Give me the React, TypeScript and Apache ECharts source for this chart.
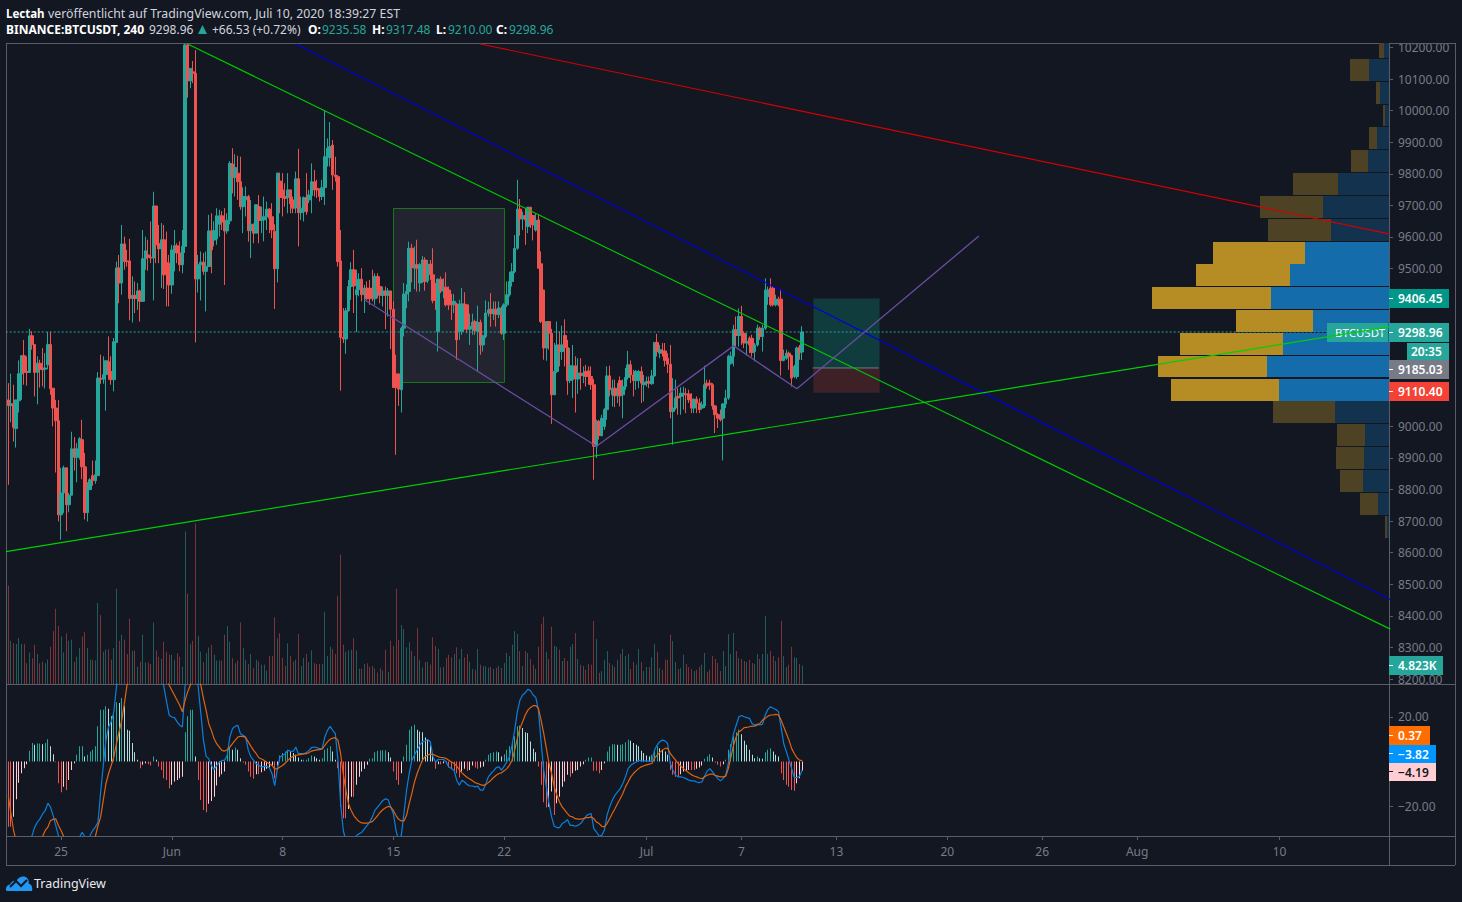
import React, { useEffect, useRef } from "react";
import * as echarts from "echarts";

const BG = "#131722";
const FRAME = "#5a5d68";
const AXIS_TEXT = "#787b86";
const UP = "#26a69a";
const DOWN = "#ef5350";
const FONT = "'Noto Sans', sans-serif";

const BAR_SLOTS = 524;
const tickLabels: Record<number, string> = {
  20: "25", 62: "Jun", 104: "8", 146: "15", 188: "22", 242: "Jul", 278: "7",
  314: "13", 356: "20", 392: "26", 428: "Aug", 482: "10",
};
const categories = Array.from({ length: BAR_SLOTS }, (_, i) => String(i));
const priceTicks = [10200,10100,10000,9900,9800,9700,9600,9500,9400,9300,9200,9100,9000,8900,8800,8700,8600,8500,8400,8300,8200];
const priceLabels = [10200,10100,10000,9900,9800,9700,9600,9500,9000,8900,8800,8700,8600,8500,8400,8300,8200];
const macdTicks = [20, -20];

// [open, close, low, high]
const candles: number[][] = [
[9084,9066,8815,9137],[9066,9072,9013,9167],[9069,8997,8952,9132],[8993,9084,8933,9084],[9081,9167,9044,9209],
[9166,9224,9084,9224],[9224,9171,9132,9274],[9174,9171,9129,9222],[9171,9287,9169,9309],[9287,9259,9243,9301],
[9259,9171,9095,9259],[9171,9200,9070,9222],[9200,9181,9123,9211],[9185,9179,9127,9248],[9181,9185,9120,9232],
[9195,9259,9181,9299],[9259,9119,9100,9299],[9121,9058,9000,9121],[9058,9018,8854,9084],[9018,8720,8699,9084],
[8720,8789,8641,8869],[8789,8869,8726,8876],[8869,8752,8668,8869],[8752,8782,8728,8789],[8782,8929,8782,8983],
[8929,8902,8860,8966],[8902,8929,8823,8947],[8929,8961,8895,8966],[8958,8872,8833,9021],[8872,8727,8705,8916],
[8727,8800,8699,8823],[8800,8831,8800,8836],[8844,8828,8812,8892],[8828,8847,8818,8892],[8844,9153,8844,9172],
[9153,9149,9135,9227],[9149,9164,9135,9222],[9164,9208,9050,9208],[9205,9174,9148,9285],[9174,9148,9132,9222],
[9148,9268,9111,9280],[9266,9502,9264,9522],[9502,9454,9390,9543],[9454,9578,9417,9638],[9578,9522,9496,9601],
[9524,9522,9506,9559],[9524,9405,9336,9594],[9405,9415,9329,9475],[9415,9405,9359,9459],[9405,9429,9369,9454],
[9429,9396,9332,9433],[9396,9531,9396,9622],[9531,9556,9496,9601],[9543,9536,9493,9591],[9536,9533,9517,9649],
[9533,9698,9399,9743],[9698,9575,9517,9698],[9580,9562,9517,9638],[9562,9591,9438,9644],[9591,9480,9435,9638],
[9519,9506,9380,9617],[9517,9448,9380,9543],[9448,9559,9420,9575],[9557,9572,9491,9622],[9572,9549,9517,9580],
[9549,9512,9491,9586],[9512,9570,9485,9622],[9570,10208,9549,10212],[10208,10094,10041,10210],[10094,10134,10071,10134],
[10123,10118,10087,10157],[10118,9467,9266,10192],[9467,9512,9424,9543],[9512,9520,9399,9554],[9520,9491,9480,9549],
[9491,9506,9364,9554],[9506,9619,9506,9670],[9619,9559,9485,9675],[9590,9620,9570,9650],[9594,9667,9575,9691],
[9640,9667,9601,9686],[9667,9647,9622,9682],[9651,9619,9448,9691],[9619,9653,9610,9675],[9651,9833,9640,9840],
[9831,9788,9738,9881],[9788,9820,9728,9862],[9802,9775,9717,9857],[9775,9696,9686,9854],[9696,9728,9612,9757],
[9717,9728,9665,9760],[9728,9620,9585,9733],[9620,9640,9533,9717],[9638,9612,9580,9643],[9612,9702,9612,9702],
[9696,9652,9580,9733],[9652,9659,9612,9696],[9654,9664,9586,9728],[9664,9688,9622,9712],[9688,9659,9612,9691],
[9664,9622,9596,9707],[9618,9499,9372,9640],[9499,9802,9456,9804],[9777,9725,9675,9804],[9749,9725,9665,9802],
[9728,9722,9696,9770],[9725,9749,9675,9802],[9749,9705,9675,9749],[9717,9691,9675,9728],[9692,9784,9675,9807],
[9784,9677,9570,9879],[9677,9691,9654,9728],[9680,9725,9649,9728],[9725,9680,9670,9802],[9717,9733,9707,9749],
[9731,9775,9675,9833],[9775,9749,9728,9812],[9754,9749,9723,9781],[9749,9728,9712,9754],[9728,9756,9717,9781],
[9756,9854,9701,10000],[9854,9881,9823,9912],[9851,9886,9823,9964],[9891,9796,9749,9907],[9796,9791,9775,9854],
[9791,9522,9506,9796],[9524,9282,9113,9622],[9282,9277,9264,9375],[9277,9366,9230,9375],[9366,9443,9364,9464],
[9443,9496,9401,9520],[9496,9445,9359,9559],[9417,9433,9299,9496],[9433,9466,9412,9485],[9466,9417,9396,9501],
[9417,9438,9359,9448],[9438,9404,9400,9459],[9438,9404,9385,9464],[9438,9404,9396,9496],[9404,9475,9385,9485],
[9475,9433,9406,9485],[9443,9415,9390,9475],[9415,9429,9380,9443],[9429,9415,9308,9443],[9415,9429,9348,9438],
[9429,9371,9245,9429],[9371,9123,9123,9396],[9166,9123,8910,9227],[9166,9118,9065,9169],[9116,9311,9044,9316],
[9311,9419,9285,9454],[9419,9427,9374,9450],[9427,9564,9396,9585],[9564,9503,9456,9578],[9501,9512,9435,9570],
[9512,9501,9427,9591],[9454,9512,9427,9517],[9459,9527,9454,9540],[9527,9459,9430,9536],[9461,9514,9454,9527],
[9514,9480,9464,9527],[9480,9399,9390,9564],[9432,9399,9369,9454],[9301,9466,9237,9469],[9466,9429,9422,9475],
[9429,9441,9406,9469],[9441,9385,9380,9488],[9432,9385,9369,9443],[9396,9385,9337,9420],[9385,9396,9359,9419],
[9388,9274,9211,9392],[9301,9388,9274,9401],[9301,9388,9290,9438],[9388,9380,9306,9425],[9385,9308,9295,9385],
[9308,9316,9258,9357],[9311,9329,9290,9357],[9332,9303,9290,9338],[9301,9329,9174,9382],[9329,9258,9227,9338],
[9258,9287,9237,9290],[9285,9359,9279,9399],[9359,9369,9348,9395],[9371,9357,9316,9422],[9357,9371,9337,9396],
[9371,9355,9316,9396],[9355,9375,9343,9396],[9355,9295,9290,9380],[9295,9385,9274,9390],[9385,9417,9378,9459],
[9417,9459,9411,9490],[9459,9490,9443,9517],[9490,9564,9485,9606],[9564,9688,9559,9781],[9688,9657,9604,9720],
[9657,9668,9622,9680],[9668,9654,9575,9691],[9633,9694,9612,9694],[9694,9640,9628,9694],[9668,9638,9589,9670],
[9622,9652,9617,9675],[9654,9501,9501,9670],[9515,9332,9327,9554],[9432,9248,9211,9432],[9248,9332,9208,9332],
[9332,9295,9243,9332],[9295,9100,9008,9309],[9100,9174,9100,9264],[9174,9258,9169,9332],[9258,9237,9190,9301],
[9237,9258,9211,9319],[9288,9250,9190,9339],[9250,9145,9100,9274],[9145,9192,9137,9248],[9148,9192,9090,9258],
[9192,9150,9044,9222],[9150,9169,9103,9216],[9169,9160,9116,9216],[9160,9169,9137,9190],[9174,9158,9126,9195],
[9176,9158,9132,9190],[9158,9132,9116,9190],[9132,8937,8831,9150],[8937,9016,8900,9021],[9016,8971,8958,9021],
[8971,9026,8968,9037],[9000,9053,8989,9058],[9053,9160,9021,9190],[9160,9116,9095,9192],[9100,9121,9063,9148],
[9121,9097,9061,9148],[9097,9100,9074,9137],[9145,9097,9063,9158],[9100,9126,9026,9148],[9126,9155,9116,9185],
[9155,9195,9148,9239],[9195,9163,9137,9209],[9163,9145,9095,9179],[9145,9174,9116,9179],[9145,9174,9121,9179],
[9174,9137,9074,9190],[9132,9140,9079,9163],[9137,9142,9126,9158],[9142,9137,9121,9158],[9135,9160,9132,9179],
[9160,9266,9158,9266],[9266,9237,9221,9293],[9232,9243,9216,9258],[9240,9232,9221,9264],[9239,9209,9190,9264],
[9216,9197,9169,9232],[9197,9047,9026,9258],[9047,9058,8942,9153],[9058,9090,9053,9148],[9095,9090,9037,9121],
[9095,9105,9037,9124],[9103,9105,9053,9126],[9103,9100,9042,9121],[9103,9084,9074,9116],[9086,9058,9042,9105],
[9058,9086,9042,9089],[9086,9074,9042,9095],[9074,9053,9042,9089],[9058,9068,9053,9079],[9065,9132,9058,9192],
[9137,9129,9120,9148],[9137,9132,9115,9148],[9132,9065,9053,9137],[9065,9037,8979,9068],[9037,9026,8995,9042],
[9037,9021,9016,9053],[9026,9071,8892,9074],[9071,9090,9058,9116],[9090,9222,9084,9227],[9200,9222,9195,9237],
[9222,9306,9190,9322],[9306,9288,9253,9348],[9288,9348,9253,9374],[9348,9295,9258,9382],[9295,9264,9248,9301],
[9264,9269,9224,9295],[9279,9258,9232,9285],[9279,9234,9221,9290],[9237,9258,9206,9264],[9258,9311,9253,9322],
[9311,9285,9274,9316],[9285,9311,9237,9322],[9311,9432,9306,9469],[9411,9432,9385,9443],[9438,9385,9380,9469],
[9438,9385,9380,9443],[9385,9403,9380,9417],[9403,9395,9380,9411],[9403,9209,9161,9434],[9209,9222,9206,9243],
[9216,9232,9211,9243],[9232,9222,9179,9237],[9224,9153,9126,9227],[9158,9190,9153,9195],[9158,9248,9150,9253],
[9251,9234,9211,9258],[9235.58,9298.96,9210,9317.48],
];

const volumes: number[] = [
25.6,11.3,10.6,10.4,12,10.4,10.4,5.4,8.2,6.7,10.2,7.8,5.4,5.8,5.4,6.4,9.7,13.8,19.6,15.1,
12.4,8.2,13.2,11.3,11.5,5.8,7.1,9.4,12.4,13.6,9.4,6.4,6.3,6.1,21.1,18,8.4,8.9,9,6.4,
9.4,24.8,11.3,12.8,11.5,7.8,17,8.6,8.7,4.5,5.8,12.8,5.6,5.6,5.2,16,8.7,7.1,6.6,11,
8.4,7.6,7.6,6.3,8,7.1,4.5,39.7,23.5,10.4,11.3,41.8,12.5,8.4,5.7,8,9.5,10.2,7.6,6.1,
6.1,6.1,12.8,15.1,11,6.7,5.4,6.1,16,9.4,6.3,5.2,7.8,4.2,6.3,5.9,5,5,3.5,7.3,
7.3,17.4,11.9,13.2,6.8,4.7,10.6,7.3,5.8,6.3,13,4.7,6.8,7.8,5.7,8.7,5.4,5.2,5.2,5.2,
18.8,7.3,9.7,9.1,7.8,23,33.7,10.2,8.4,8.7,8.9,11.9,8.7,4,4,5.2,5.4,4.5,4.7,4.1,
3,4.1,3.5,8.9,3.2,11.3,9.9,24.8,11.5,15.4,14.3,9.6,10.9,8.6,7.3,14.5,6.3,4.3,5.7,5.7,
5.1,12.2,9.9,9.1,4.3,4.4,6.8,7.6,7,7.8,9.6,6.5,9.1,7,7.8,5.8,3.9,3.7,9.1,5,
4.7,4.6,4.3,4.4,3.9,4.2,4.7,4.2,5.5,8.1,7.3,10.2,13.8,13,8.6,4.7,8.6,8.1,6.5,5,
3.9,9.7,15.7,17.5,8.4,6.5,14.9,9.9,9.7,8.9,6,6.8,6,9.7,10.4,13.3,6.5,5,4.7,3.7,
5.2,5,16.4,11.7,2.9,3.4,6.3,8.6,5.5,5,4.4,6.3,7.8,9.1,7.3,7.8,3.9,5.7,5,9.1,
5.7,3.4,4.4,4.4,7,10.4,8.4,4.2,3.7,6.3,6.3,12.8,11.2,5.7,3.9,4.2,7.6,5.2,4.4,3.9,
3.4,3.7,4.4,5,8.1,3.1,3.7,7.3,6.5,5.5,3.4,8.6,4.7,13,7.8,13.3,8.6,6.8,6.5,6,
5.7,6.3,5.5,5.2,7.8,6.5,7.8,17.7,7.8,8.6,7.3,6,7,16.4,7.3,4.4,5,9.7,7,6.8,
5.2,4.823,
];

const histogram: number[] = [
-29.3,-29.3,-24.8,-17,-9.5,-5.3,-3,-1.2,
4.8,8.3,7.5,8.1,8.1,7.8,8.3,10,6.8,3.3,
-0.3,-9.8,-13.8,-11.3,-12.8,-8.3,-3.8,-0.8,
3,6.8,6.8,2.3,3,4.5,5.3,6.8,15.8,23.3,23.3,24.8,23.7,20.3,21,26.6,26.3,28.5,25,14.3,13.8,8.3,4.2,0.8,
-3,-1.5,-0.8,-1.2,-1.8,2.3,0.8,
-2.3,-3.8,-7.5,-8.3,-12,-10.5,-9,-8.3,-7.5,-6.8,
13.2,20.3,23.3,23.3,2.3,
-8.3,-17.3,-21.8,-22.8,-19,-17.7,-15.8,-10.8,-6.8,-5.7,-4.5,
5.3,6.3,5.3,6.3,5.3,1.5,
-0.5,-1.5,-4.5,-6.8,-7.8,-5.7,-5.7,-4.8,-4.2,-3.3,-2.7,-1.8,-7.5,-1.8,
2.7,3.8,4.5,5.3,4.5,3.8,3,1.8,0.8,0.8,0.8,1.5,2.7,2.3,1.5,0.8,1.5,5.3,6,6.8,4.5,0.8,
-3,-20.3,-25.5,-25.5,-21.3,-15.8,-15.8,-10.5,-6.8,-4.5,-3.3,-1.5,
1.2,1.5,4.2,4.8,5,5.1,5.1,4.2,1.8,
-4.5,-8.3,-10.5,-5.3,
2.3,7.5,14.3,15.8,16.5,14.3,13.5,13.2,10.8,9.8,7.2,3.8,
-3.3,-1.2,-1.2,-0.8,-0.8,-2.7,-3,-4.5,-5.3,-7.2,-4.5,-3.3,-4.2,-3.8,-1.8,-2.7,-3.3,-2.7,-2.3,
0.8,3,3.8,4.2,4.5,4.2,2.3,3.3,5.3,6.8,8.3,11.3,15.8,16.2,15,13.2,12.8,9,5.7,4.2,
-2.3,-10.5,-18.3,-20.7,-20.3,-13.5,-24,-18.8,-15.8,-11.3,-9,-6,-6.8,-5.3,-4.2,-3.8,-2.3,-1.2,
0.8,1.8,1.8,
-4.2,-4.2,-5.3,-3.8,-0.8,
4.5,6.8,7.8,7.8,7.5,7.5,7.8,8.7,9.8,9.3,8.3,7.5,6.8,4.8,3.8,2.7,2.3,3,5.3,6.8,6,5.3,4.5,3,
-3.8,-6,-6.8,-6.8,-5.7,-4.5,-4.2,-3.8,-3.8,-3.8,-3.3,-2.7,-1.8,
1.2,2.3,3.3,1.8,
-0.5,-1.5,-2.3,-1.2,
0.8,5.3,7.8,11.3,13.2,14.3,12.3,9.3,7.5,5.3,3,1.5,2.3,1.5,1.2,4.2,5.3,6,4.5,3,2.3,
-5.3,-8.3,-10.5,-11.3,-12.8,-13.2,-9.8,-7.5,-4.19,
];

const macdLine: number[] = [
-60,-60,-58,-55,-50,-45,-42,-38,-35,-33.3,-29.5,-27.3,-25.8,-23.5,-22,-18.7,-20.5,-24.3,-28.8,-33.3,
-37.8,-40,-42,-42,-40,-38,-36,-34,-31.8,-33.7,-34.8,-33.3,-31,-29.5,-27.3,-13.8,-1.8,9.5,15.5,17.8,
22.3,33.5,40,48,52,56,58,58,58,58,57,56,55,52,50,48,45,42,38,33.5,
26.8,20.8,20,19.7,17.8,16.3,15.5,33.5,45,55,50,42,33.5,21.5,9.5,2.3,1.3,-1.8,-3.7,-1.8,
-0.3,0.5,0.5,2.8,11,14.8,15.8,16.3,12.5,11.8,11,5,2,0.5,-1,-1.8,-2.5,-2.2,-2.2,-2.8,
-5.5,-10.8,-3.3,2,2.8,3.5,5,4.7,4.5,6.5,3.5,3.5,3.5,4,5,6.2,6.5,6.2,5.8,5.8,
11,14,15.8,14,12.5,0.5,-19,-31,-35.5,-37.8,-37,-35.5,-33.3,-32.5,-31.8,-30.3,-28.8,-27.3,-25,-22,
-20.5,-19,-17.5,-16.8,-17.2,-20.5,-23.5,-31,-35.5,-33.2,-23.4,-12.9,-5.4,0.6,2.9,5.1,7.4,8.9,9.2,9.9,
8.9,2.1,-0.2,0.9,0.9,0.9,-0.2,-2.4,-3.2,-3.9,-8.4,-10.7,-8.4,-9.2,-10.4,-11,-11,-11.4,-11.1,-12.9,
-12.9,-10.2,-6.9,-5.4,-4.2,-2.7,-2.4,-3.9,-2.1,-0.2,2.1,7.4,14.1,22.4,27.6,29.9,30.9,32.4,31.8,29.9,
28.8,23.1,8.9,-3.9,-11.4,-18.9,-24.9,-29.1,-29.7,-29.7,-27.9,-27.2,-26.1,-28.7,-28.7,-29.1,-28.7,-27.9,-26.4,-24.6,
-23.7,-23.4,-30.2,-31.7,-33.6,-33.2,-30.9,-24.2,-20.4,-17.4,-15.2,-13.7,-12.2,-9.9,-6.9,-3.2,-1.7,-0.9,-0.2,0.6,
0.3,0.3,0.3,0.2,0.2,5.1,7.4,8.9,9.6,9.3,8.1,-0.9,-3.9,-6.2,-6.9,-6.9,-7.2,-7.7,-8.4,-8.7,
-8.7,-9.2,-9.5,-9.2,-6.6,-4.2,-3.2,-4.7,-6.2,-7.7,-8.7,-7.7,-6.2,-0.9,6.6,12.6,16.4,20.1,20.7,20.1,
19.7,19.4,17.1,16.4,16.8,16.4,16.8,20.9,23.4,24.6,23.9,23.4,22.4,15.6,8.1,4.4,0.6,-3.2,-7.2,-7.2,
-6.6,-3.82,
];

const signalLine: number[] = [
-15.4,-23.5,-31,-36,-40,-44,-47,-50,-50,-48,-45,-40,-36,-33.7,-31,-29.5,-26.5,-26,-25.8,-28.8,
-31,-33.7,-36,-38,-38,-38,-37,-37,-37,-37,-36,-35.5,-34.5,-33.7,-28.8,-25,-17.5,-10,-5.5,-1.8,
2,8,13.3,18.5,26,34.3,38,41,44,47,49,50,50,50,49,48,47,45,43,40,
37,34.3,32,29.8,27.5,25.3,22.3,27.5,31.3,34.3,38,40,38,34.3,28.3,23,17,14,10.3,8,
6.5,5,4.7,5.3,6.5,8,9.5,11,11.3,11.3,10.7,8.8,6.8,5,3.5,1.7,1.1,0.5,-0.3,-1,
-1.8,-3.3,-3.3,-2.5,-1.8,-0.7,0.5,1.7,2.3,2.8,3,3.2,3.4,3.5,4,4.7,5,5.2,5.3,5.6,
7.3,8.8,10,10.5,10.7,9.5,3.5,-5.5,-13,-19,-22,-24.3,-25.8,-27,-27.6,-27.7,-27.7,-27.4,-27,-25.8,
-24.3,-22.8,-21.7,-20.8,-20.2,-20.5,-22,-24.3,-26,-26.7,-26.7,-24.2,-18.9,-14.4,-9.2,-5.4,-2.4,0.6,2.1,2.9,
3.3,3.2,2.7,2.1,1.8,1.7,1.4,0.6,-0.2,-0.9,-2.1,-3.6,-5.1,-6.2,-7.2,-7.9,-8.7,-9.5,-9.9,-10.4,
-10.7,-10.4,-9.5,-8.4,-7.2,-6.2,-5.4,-5.1,-4.2,-3.2,-1.7,0.6,5.1,10.4,14.9,17.9,20.9,23.1,24.3,25.1,
25.1,23.9,18.6,12.6,5.9,-0.9,-5.4,-11.4,-15.2,-18.2,-20.4,-21.9,-23.4,-24.6,-24.9,-25.7,-25.9,-25.9,-25.7,-25.2,
-25.2,-24.9,-25.7,-27.2,-27.9,-29.1,-29.4,-27.9,-25.7,-23.4,-21.2,-18.9,-16.7,-14.4,-11.4,-9.2,-6.9,-5.4,-4.2,-3.2,
-2.4,-1.9,-1.5,-1.2,-0.9,1.4,2.9,4.1,5.1,5.9,5.9,3.6,2.1,0.6,-0.9,-2.1,-3.2,-4.2,-5.1,-5.9,
-6.5,-6.9,-7.4,-7.7,-6.9,-6.2,-5.7,-5.7,-6.2,-6.6,-6.9,-6.9,-6.6,-3.2,2.1,7.4,11.1,13.4,14.1,15.2,
15.3,15.6,15.9,15.9,16.4,17.1,18.6,19.4,20.4,20.9,20.9,21.2,20.9,18.6,15.6,12.6,9.6,5.9,3.6,1.7,
0.6,0.37,
];

// Visible-range volume profile, one row per price bin
const profileRowHighs = [10236,10164,10091,10019,9947,9874,9802,9730,9657,9585,9513,9441,9368,9296,9224,9151,9079,9007,8934,8862,8790,8717];
const profileBinSize = 72.3;
const profileUp = [5,20,9,4,12,21,51,66,58,84,99,118,76,106,122,110,54,24,25,26,11,2];
const profileDown = [5,19,4,2,8,17,45,63,63,92,94,119,77,103,109,108,62,28,28,23,18,2];
const valueAreaRows = [9,10,11,12,13,14,15];

// Drawings in [bar index, price]
const risingGreen = [[-1,8603.5],[524,9316]];
const fallingGreen = [[68,10211],[524,8358]];
const blueChannel = [[109,10211],[524,8452]];
const redChannel = [[179,10211],[524,9609]];
const purpleZigzag = [[135,9401],[223,8937],[275,9255],[299,9119],[368,9603]];
const lastPrice = [[-1,9298.96],[524,9298.96]];
const targetLine = [[305,9185.03],[330,9185.03]];
// [bar from, price top, bar to, price bottom, fill, stroke]
const boxes: any[][] = [
  [146, 9692, 188, 9141.5, "#22252f", "#17761a"],
  [305, 9406.45, 330, 9185.03, "#113c3e", "#15282f"],
  [305, 9185.03, 330, 9110.4, "#3e2126", "#2b2028"],
];

echarts.graphic.registerShape("tvlogo", echarts.graphic.extendPath(
  "M0.4 16 C-0.8 13 0.8 10 4 9.6 C5 6.6 8 5 10.4 6 C12.6 1.4 18.4 0 21.4 3.4 C23 5.2 23 7 22.6 8.4 C25.6 9.2 27 12.6 26 16 Z", {}
) as any);

function barStyleColor(v: number, prev: number) {
  if (v >= 0) return v >= prev ? UP : "#b2dfdb";
  return v <= prev ? DOWN : "#ffcdd2";
}

function renderColumn(params: any, api: any) {
  const idx = api.value(0);
  const val = api.value(1);
  const base = api.coord([idx, 0]);
  const top = api.coord([idx, val]);
  return {
    type: "rect",
    shape: { x: Math.floor(base[0]), y: Math.min(base[1], top[1]), width: 1, height: Math.abs(top[1] - base[1]) },
    style: { fill: params.context.colors[params.dataIndex] },
  };
}

function flag(x: number, y: number, w: number, h: number, fill: string, text: string, color = "#ffffff", tx?: number, dash = true, z = 20, font = `600 12px ${FONT}`): any[] {
  const out: any[] = [
    { type: "rect", z, shape: { x, y, width: w, height: h }, style: { fill } },
    { type: "text", z: z + 2, x: tx ?? 1398, y: y + h / 2, style: { text, fill: color, font, textVerticalAlign: "middle" } },
  ];
  if (dash) out.push({ type: "rect", z: z + 1, shape: { x: 1389, y: Math.round(y + h / 2) - 1, width: 4, height: 1 }, style: { fill: color } });
  return out;
}

function hline(y: number, x1: number, x2: number) {
  return { type: "line", z: 1, shape: { x1, y1: y + 0.5, x2, y2: y + 0.5 }, style: { stroke: FRAME, lineWidth: 1 } };
}
function vline(x: number, y1: number, y2: number) {
  return { type: "line", z: 1, shape: { x1: x + 0.5, y1, x2: x + 0.5, y2 }, style: { stroke: FRAME, lineWidth: 1 } };
}
function label(x: number, y: number, text: string, fill = "#d1d4dc", bold = false, size = 12) {
  return { type: "text", z: 30, x, y, style: { text, fill, font: `${bold ? "700" : "400"} ${size}px ${FONT}`, textVerticalAlign: "middle" } };
}

function trend(name: string, data: number[][], color: string, extra: any = {}) {
  return {
    name, type: "line", xAxisIndex: 0, yAxisIndex: 0, data, symbol: "none", z: 6, silent: true,
    lineStyle: { color, width: 1.15, ...extra },
  };
}

function buildOption(): any {
  const volumeColors = volumes.map((_, i) => (candles[i][1] >= candles[i][0] ? "#225b5c" : "#7a3438"));
  const histColors = histogram.map((v, i) => barStyleColor(v, i ? histogram[i - 1] : 0));
  const axisLabelBase = { color: AXIS_TEXT, fontFamily: FONT, fontSize: 12 };

  return {
    animation: false,
    backgroundColor: BG,
    grid: [
      { left: 7, top: 43, width: 1382, height: 641 },
      { left: 7, top: 684, width: 1382, height: 152 },
    ],
    xAxis: [
      { type: "category", gridIndex: 0, data: categories, show: false },
      {
        type: "category", gridIndex: 1, data: categories, position: "bottom",
        axisLine: { show: false, onZero: false },
        axisTick: { show: true, alignWithLabel: true, length: 4, interval: (i: number) => tickLabels[i] !== undefined, lineStyle: { color: FRAME } },
        axisLabel: { ...axisLabelBase, margin: 9, interval: (i: number) => tickLabels[i] !== undefined, formatter: (v: string) => tickLabels[Number(v)] ?? "" },
        splitLine: { show: false },
      },
      { type: "value", gridIndex: 0, position: "top", inverse: true, min: 0, max: 1382, show: false, splitLine: { show: false } },
    ],
    yAxis: [
      {
        type: "value", gridIndex: 0, position: "right", min: 8184.2, max: 10214.2, scale: true,
        axisLine: { show: false }, splitLine: { show: false },
        axisTick: { show: true, length: 4, customValues: priceTicks, lineStyle: { color: FRAME } },
        axisLabel: { ...axisLabelBase, margin: 9, customValues: priceLabels, formatter: (v: number) => v.toFixed(2) },
      },
      { type: "value", gridIndex: 0, min: 0, max: 167, show: false, splitLine: { show: false } },
      {
        type: "value", gridIndex: 1, position: "right", min: -33.48, max: 34.83,
        axisLine: { show: false }, splitLine: { show: false },
        axisTick: { show: true, length: 4, customValues: macdTicks, lineStyle: { color: FRAME } },
        axisLabel: { ...axisLabelBase, margin: 9, customValues: macdTicks, formatter: (v: number) => v.toFixed(2).replace("-", "\u2212") },
      },
    ],
    series: [
      {
        name: "boxes", type: "custom", xAxisIndex: 0, yAxisIndex: 0, z: 1, silent: true, clip: true,
        encode: { x: [0, 2], y: [1, 3] },
        data: boxes.map((b) => [b[0], b[1], b[2], b[3]]),
        renderItem: (params: any, api: any) => {
          const b = boxes[params.dataIndex];
          const p0 = api.coord([b[0], b[1]]);
          const p1 = api.coord([b[2], b[3]]);
          return {
            type: "rect",
            shape: { x: Math.round(p0[0]) + 0.5, y: Math.round(p0[1]) + 0.5, width: Math.round(p1[0] - p0[0]), height: Math.round(p1[1] - p0[1]) },
            style: { fill: b[4], stroke: b[5], lineWidth: 1 },
          };
        },
      },
      {
        name: "Volume Profile", type: "custom", xAxisIndex: 2, yAxisIndex: 0, z: 2, silent: true, clip: true,
        encode: { x: [1, 2], y: 0 },
        data: profileRowHighs.map((h, i) => [h, profileUp[i], profileDown[i]]),
        renderItem: (params: any, api: any) => {
          const high = api.value(0);
          const up = api.value(1);
          const down = api.value(2);
          const lit = valueAreaRows.includes(params.dataIndex);
          const top = api.coord([0, high]);
          const bottom = api.coord([0, high - profileBinSize]);
          const mid = api.coord([up, high]);
          const end = api.coord([up + down, high]);
          const y = Math.round(top[1]);
          const height = Math.round(bottom[1]) - y - 1;
          return {
            type: "group",
            children: [
              { type: "rect", shape: { x: Math.round(mid[0]), y, width: Math.round(top[0]) - Math.round(mid[0]), height }, style: { fill: lit ? "#146cab" : "#13324e" } },
              { type: "rect", shape: { x: Math.round(end[0]), y, width: Math.round(mid[0]) - Math.round(end[0]), height }, style: { fill: lit ? "#b58d24" : "#4d4224" } },
            ],
          };
        },
      },
      {
        name: "Volume", type: "custom", xAxisIndex: 0, yAxisIndex: 1, z: 3, silent: true, clip: true,
        encode: { x: 0, y: 1 },
        data: volumes.map((v, i) => [i, v]),
        renderItem: (params: any, api: any) => renderColumn({ ...params, context: { colors: volumeColors } }, api),
      },
      {
        name: "BTCUSDT", type: "candlestick", xAxisIndex: 0, yAxisIndex: 0, z: 5, silent: true, barWidth: 3,
        data: candles,
        itemStyle: { color: UP, color0: DOWN, borderColor: UP, borderColor0: DOWN, borderWidth: 1 },
      },
      trend("Last", lastPrice, UP, { type: [2, 2], width: 1 }),
      trend("Target", targetLine, AXIS_TEXT, { width: 1 }),
      trend("Red", redChannel, "#d40000"),
      trend("Blue", blueChannel, "#0000dc"),
      trend("Green falling", fallingGreen, "#00c800"),
      trend("Green rising", risingGreen, "#00d000"),
      trend("Zigzag", purpleZigzag, "#6a4ca3", { width: 1.3 }),
      {
        name: "Histogram", type: "custom", xAxisIndex: 1, yAxisIndex: 2, z: 3, silent: true, clip: true,
        encode: { x: 0, y: 1 },
        data: histogram.map((v, i) => [i, v]),
        renderItem: (params: any, api: any) => renderColumn({ ...params, context: { colors: histColors } }, api),
      },
      {
        name: "MACD", type: "line", xAxisIndex: 1, yAxisIndex: 2, z: 5, symbol: "none", silent: true,
        data: macdLine, lineStyle: { color: "#0a80dc", width: 1.2 },
      },
      {
        name: "Signal", type: "line", xAxisIndex: 1, yAxisIndex: 2, z: 6, symbol: "none", silent: true,
        data: signalLine, lineStyle: { color: "#e0640f", width: 1.2 },
      },
    ],
    graphic: {
      elements: [
        vline(6, 43, 865), vline(1389, 43, 865), vline(1455, 43, 865),
        hline(43, 6, 1455), hline(684, 6, 1455), hline(836, 6, 1455), hline(865, 6, 1455),

        { type: "text", z: 30, x: 6, y: 13, style: { text: "Lectah", fill: "#ffffff", font: `700 11.5px ${FONT}`, textVerticalAlign: "middle" } },
        label(48, 13, "veröffentlicht auf TradingView.com, Juli 10, 2020 18:39:27 EST", "#d1d4dc", false, 12.3),
        label(6, 29, "BINANCE:BTCUSDT, 240", "#ffffff", true),
        label(149, 29, "9298.96"),
        { type: "polygon", z: 30, shape: { points: [[198, 34], [207, 34], [202.5, 25]] }, style: { fill: UP } },
        label(212, 29, "+66.53 (+0.72%)"),
        label(308, 29, "O:", "#ffffff", true), label(322, 29, "9235.58", UP),
        label(372, 29, "H:", "#ffffff", true), label(386, 29, "9317.48", UP),
        label(436, 29, "L:", "#ffffff", true), label(448, 29, "9210.00", UP),
        label(496, 29, "C:", "#ffffff", true), label(509, 29, "9298.96", UP),

        ...flag(1327, 323, 61, 19, UP, "BTCUSDT", "#ffffff", 1335, false, 4, `400 11.5px ${FONT}`),
        ...flag(1389, 289, 60, 19, "#009688", "9406.45"),
        ...flag(1389, 323, 60, 19, UP, "9298.96"),
        ...flag(1407, 343, 42, 17, UP, "20:35", "#ffffff", 1411, false),
        ...flag(1389, 360, 60, 19, AXIS_TEXT, "9185.03"),
        ...flag(1389, 382, 60, 19, "#f44336", "9110.40"),
        ...flag(1389, 656, 54, 19, UP, "4.823K"),
        ...flag(1389, 726, 41, 19, "#ff6d00", "0.37"),
        ...flag(1389, 745, 47, 18, "#0096ff", "\u22123.82"),
        ...flag(1389, 763, 47, 18, "#ffcdd2", "\u22124.19", "#131722"),

        { type: "tvlogo", z: 30, x: 6, y: 875, style: { fill: "#2196f3" } },
        { type: "polyline", z: 31, shape: { points: [[10, 887], [16, 881], [21, 886], [27, 880]] }, style: { stroke: BG, lineWidth: 2, fill: "none" } },
        { type: "text", z: 30, x: 34, y: 883, style: { text: "TradingView", fill: "#e8e9ee", font: `400 12.5px ${FONT}`, textVerticalAlign: "middle" } },
      ],
    },
  };
}

export default function App() {
  const ref = useRef<HTMLDivElement>(null);
  useEffect(() => {
    document.body.style.margin = "0";
    document.body.style.background = BG;
    const chart = echarts.init(ref.current!, undefined, { renderer: "svg" });
    chart.setOption(buildOption());
    return () => chart.dispose();
  }, []);
  return <div ref={ref} style={{ width: 1462, height: 902 }} />;
}
